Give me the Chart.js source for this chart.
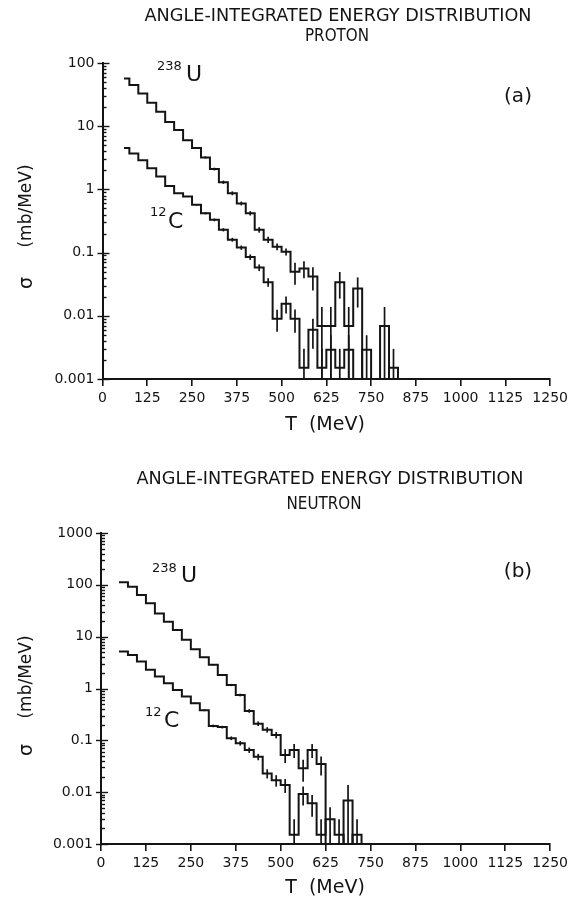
<!DOCTYPE html>
<html>
<head>
<meta charset="utf-8">
<script src="https://cdn.jsdelivr.net/npm/chart.js@4.4.0/dist/chart.umd.min.js"></script>
<style>
  html, body { margin: 0; padding: 0; background: #fff; }
  #wrap { position: relative; width: 572px; height: 903px; }
  canvas { position: absolute; left: 0; }
  #protonChart { top: 0; }
  #neutronChart { top: 451px; }
</style>
</head>
<body>
<div id="wrap">
  <canvas id="protonChart" width="572" height="451"></canvas>
  <canvas id="neutronChart" width="572" height="452"></canvas>
</div>
<script>
// T axis ticks (MeV), shared by both panels
const xTicks = [0, 125, 250, 375, 500, 625, 750, 875, 1000, 1125, 1250];
const xTickLabels = ['0', '125', '250', '375', '500', '625', '750', '875', '1000', '1125', '1250'];
const protonYLabels = ['0.001', '0.01', '0.1', '1', '10', '100'];
const neutronYLabels = ['0.001', '0.01', '0.1', '1', '10', '100', '1000'];

// (a) proton: bin edges in MeV, sigma in mb/MeV, relative errors
const protonEdges = [60, 75, 100, 125, 150, 175, 200, 225, 250, 275, 300, 325, 350, 375, 400, 425,
  450, 475, 500, 525, 550, 575, 600, 625, 650, 675, 700, 725, 750, 775, 800, 825];
const protonU = [57, 45, 33, 23.5, 17, 11.7, 8.7, 6.0, 4.5, 3.2, 2.1, 1.3, 0.87, 0.6, 0.42, 0.23,
  0.16, 0.124, 0.103, 0.05, 0.056, 0.042, 0.0069, 0.0069, 0.034, 0.0069, 0.027, 0, 0, 0.0069];
const protonUErr = [0.01, 0.01, 0.01, 0.01, 0.01, 0.02, 0.02, 0.02, 0.03, 0.04, 0.05, 0.06, 0.07, 0.07, 0.08, 0.1,
  0.11, 0.12, 0.13, 0.38, 0.3, 0.4, 1, 1, 0.45, 1, 0.5, 0, 0, 1];
const protonC = [4.5, 3.7, 2.9, 2.16, 1.6, 1.13, 0.87, 0.77, 0.57, 0.42, 0.33, 0.23, 0.16, 0.12, 0.085, 0.058,
  0.034, 0.009, 0.0155, 0.009, 0.0015, 0.006, 0.0015, 0.0029, 0.0015, 0.0029, 0, 0.0029, 0, 0, 0.0015];
const protonCErr = [0.01, 0.01, 0.01, 0.01, 0.01, 0.01, 0.01, 0.01, 0.03, 0.04, 0.05, 0.06, 0.07, 0.08, 0.1, 0.12,
  0.15, 0.38, 0.3, 0.4, 1, 0.5, 1, 0.7, 1, 0.7, 0, 0.7, 0, 0, 1];

// (b) neutron
const neutronEdges = [50, 75, 100, 125, 150, 175, 200, 225, 250, 275, 300, 325, 350, 375, 400, 425,
  450, 475, 500, 525, 550, 575, 600, 625, 650, 675, 700, 725];
const neutronU = [112, 92, 64, 44, 28, 19.5, 13.5, 8.7, 5.7, 4.0, 2.86, 1.83, 1.17, 0.75, 0.37, 0.21,
  0.16, 0.127, 0.052, 0.065, 0.029, 0.065, 0.035, 0, 0, 0.0069];
const neutronUErr = [0.01, 0.01, 0.01, 0.01, 0.01, 0.01, 0.01, 0.01, 0.01, 0.02, 0.03, 0.04, 0.05, 0.06, 0.08, 0.1,
  0.12, 0.14, 0.3, 0.3, 0.45, 0.3, 0.4, 0, 0, 1];
const neutronC = [5.2, 4.45, 3.3, 2.29, 1.7, 1.26, 0.94, 0.70, 0.52, 0.38, 0.19, 0.18, 0.11, 0.088, 0.065, 0.048,
  0.023, 0.017, 0.0138, 0.0015, 0.0092, 0.0061, 0.0015, 0.003, 0.0015, 0, 0.0015];
const neutronCErr = [0.01, 0.01, 0.01, 0.01, 0.01, 0.01, 0.01, 0.02, 0.03, 0.04, 0.06, 0.06, 0.08, 0.1, 0.12, 0.14,
  0.2, 0.25, 0.3, 1, 0.4, 0.45, 1, 0.7, 1, 0, 1];

const INK = '#141414';
const FONT = "'DejaVu Sans', 'Liberation Sans', sans-serif";
const Y_MIN = 0.001;

// histogram outline: one point per bin edge, empty bins sit on the axis
function stepPoints(edges, values) {
  const pts = values.map((v, i) => ({ x: edges[i], y: Math.max(v, Y_MIN) }));
  pts.push({ x: edges[values.length], y: Y_MIN });
  return pts;
}

function isDecade(v) {
  const e = Math.round(Math.log10(v));
  return Math.abs(v - Math.pow(10, e)) < 1e-9 * Math.pow(10, e);
}

function decadeTicks(minExp, maxExp) {
  const out = [];
  for (let e = minExp; e < maxExp; e++) {
    for (let m = 1; m <= 9; m++) out.push({ value: m * Math.pow(10, e) });
  }
  out.push({ value: Math.pow(10, maxExp) });
  return out;
}

function drawText(ctx, t) {
  ctx.save();
  ctx.font = (t.weight || 'normal') + ' ' + t.size + 'px ' + FONT;
  ctx.fillStyle = INK;
  ctx.textBaseline = 'middle';
  ctx.textAlign = t.align || 'center';
  ctx.translate(t.x, t.y);
  if (t.rotate) ctx.rotate(t.rotate);
  if (t.width) {
    const w = ctx.measureText(t.text).width;
    ctx.scale(t.width / w, 1);
  }
  ctx.fillText(t.text, 0, 0);
  ctx.restore();
}

// vertical error bars at the bin centres
function errorBarPlugin(series) {
  return {
    id: 'errorBars',
    afterDatasetsDraw(chart) {
      const { ctx } = chart;
      const x = chart.scales.x, y = chart.scales.y;
      ctx.save();
      ctx.strokeStyle = INK;
      ctx.lineWidth = 1.7;
      series.forEach(s => {
        s.values.forEach((v, i) => {
          const r = s.errors[i];
          if (!v || !r) return;
          const px = x.getPixelForValue((s.edges[i] + s.edges[i + 1]) / 2);
          const lo = Math.max(v * (1 - r), Y_MIN);
          const hi = v * (1 + r);
          ctx.beginPath();
          ctx.moveTo(px, y.getPixelForValue(lo));
          ctx.lineTo(px, y.getPixelForValue(hi));
          ctx.stroke();
        });
      });
      ctx.restore();
    }
  };
}

// log ticks drawn on the inside of the y axis, decades also poke out
const logTickMarks = {
  id: 'logTickMarks',
  afterDraw(chart) {
    const { ctx } = chart;
    const y = chart.scales.y;
    const x0 = chart.chartArea.left;
    ctx.save();
    ctx.strokeStyle = INK;
    ctx.lineWidth = 1.4;
    y.ticks.forEach(t => {
      const py = Math.round(y.getPixelForValue(t.value)) + 0.5;
      const major = isDecade(t.value);
      ctx.beginPath();
      ctx.moveTo(major ? x0 - 5 : x0, py);
      ctx.lineTo(x0 + (major ? 7 : 4), py);
      ctx.stroke();
    });
    ctx.restore();
  }
};

function textPlugin(items) {
  return {
    id: 'panelText',
    afterDraw(chart) {
      items.forEach(t => drawText(chart.ctx, t));
    }
  };
}

function makePanel(canvasId, cfg) {
  const yLabels = cfg.yLabels;
  const minExp = -3;
  const maxExp = minExp + yLabels.length - 1;
  return new Chart(document.getElementById(canvasId), {
    type: 'line',
    data: {
      datasets: cfg.series.map(s => ({
        data: stepPoints(s.edges, s.values),
        stepped: 'before',
        borderColor: INK,
        borderWidth: 2,
        pointRadius: 0,
        fill: false,
        clip: false
      }))
    },
    options: {
      responsive: false,
      animation: false,
      events: [],
      layout: { padding: cfg.padding },
      plugins: { legend: { display: false }, tooltip: { enabled: false } },
      scales: {
        x: {
          type: 'linear',
          min: 0,
          max: 1250,
          afterBuildTicks(scale) { scale.ticks = xTicks.map(v => ({ value: v })); },
          afterFit(scale) { scale.height = cfg.xHeight; },
          ticks: {
            autoSkip: false,
            maxRotation: 0,
            padding: 4,
            color: INK,
            font: { family: FONT, size: 14 },
            callback(v) { return xTickLabels[xTicks.indexOf(v)]; }
          },
          grid: { display: true, drawOnChartArea: false, drawTicks: true, tickLength: 7, color: INK, lineWidth: 1.6 },
          border: { display: true, color: INK, width: 2 }
        },
        y: {
          type: 'logarithmic',
          min: Math.pow(10, minExp),
          max: Math.pow(10, maxExp),
          afterBuildTicks(scale) { scale.ticks = decadeTicks(minExp, maxExp); },
          afterFit(scale) { scale.width = cfg.yWidth; },
          ticks: {
            autoSkip: false,
            padding: 8,
            color: INK,
            font: { family: FONT, size: 14 },
            callback(v) {
              if (!isDecade(v)) return '';
              return yLabels[Math.round(Math.log10(v)) - minExp];
            }
          },
          grid: { display: false, drawTicks: false },
          border: { display: true, color: INK, width: 2 }
        }
      }
    },
    plugins: [errorBarPlugin(cfg.series), logTickMarks, textPlugin(cfg.texts)]
  });
}

const UP = -Math.PI / 2;

makePanel('protonChart', {
  yLabels: protonYLabels,
  padding: { top: 63, right: 19.5, bottom: 0, left: 0 },
  yWidth: 102.5,
  xHeight: 72,
  series: [
    { edges: protonEdges, values: protonU, errors: protonUErr },
    { edges: protonEdges, values: protonC, errors: protonCErr }
  ],
  texts: [
    { text: 'ANGLE-INTEGRATED ENERGY DISTRIBUTION', x: 338, y: 16.5, size: 17, width: 387 },
    { text: 'PROTON', x: 337, y: 37, size: 17, width: 64 },
    { text: '(a)', x: 518, y: 97, size: 20 },
    { text: '238', x: 157, y: 67, size: 13, align: 'left' },
    { text: 'U', x: 186, y: 75, size: 22, align: 'left' },
    { text: '12', x: 150, y: 213, size: 13, align: 'left' },
    { text: 'C', x: 168, y: 222, size: 22, align: 'left' },
    { text: '(mb/MeV)', x: 27, y: 206, size: 17, rotate: UP },
    { text: 'σ', x: 27, y: 283, size: 19, rotate: UP },
    { text: 'T  (MeV)', x: 325, y: 425, size: 19 }
  ]
});

makePanel('neutronChart', {
  yLabels: neutronYLabels,
  padding: { top: 82, right: 21, bottom: 0, left: 0 },
  yWidth: 101,
  xHeight: 59,
  series: [
    { edges: neutronEdges, values: neutronU, errors: neutronUErr },
    { edges: neutronEdges, values: neutronC, errors: neutronCErr }
  ],
  texts: [
    { text: 'ANGLE-INTEGRATED ENERGY DISTRIBUTION', x: 330, y: 28.5, size: 17, width: 387 },
    { text: 'NEUTRON', x: 324, y: 53.5, size: 17, width: 75 },
    { text: '(b)', x: 518, y: 121, size: 20 },
    { text: '238', x: 152, y: 117.5, size: 13, align: 'left' },
    { text: 'U', x: 181, y: 125.5, size: 22, align: 'left' },
    { text: '12', x: 145, y: 262, size: 13, align: 'left' },
    { text: 'C', x: 164, y: 270, size: 22, align: 'left' },
    { text: '(mb/MeV)', x: 27, y: 226, size: 17, rotate: UP },
    { text: 'σ', x: 27, y: 299, size: 19, rotate: UP },
    { text: 'T  (MeV)', x: 325, y: 437, size: 19 }
  ]
});
</script>
</body>
</html>
